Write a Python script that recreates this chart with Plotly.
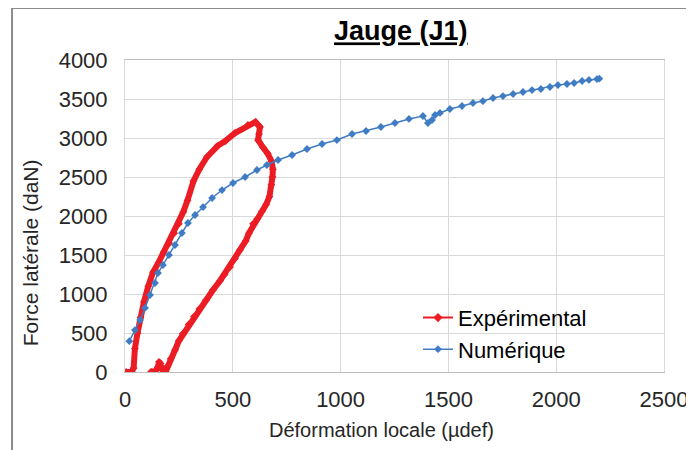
"""
Jauge (J1) chart

Force latérale vs déformation locale, experimental loop
against the numerical curve.
"""

import plotly.graph_objects as go

# -------------------------------------------------
# Data
# -------------------------------------------------

exp_def = [
    5, 30, 40, 46, 58, 72, 88, 108, 130, 155, 180, 205, 228, 250, 270,
    290, 318, 345, 380, 430, 465, 510, 570, 605, 626, 622, 617, 640, 662,
    680, 686, 684, 679, 670, 655, 635, 612, 594, 575, 560, 533, 510, 487,
    462, 441, 408, 375, 345, 320, 295, 268, 250, 232, 212, 195, 188, 175,
    165, 158, 152, 140, 125, 120,
]
exp_force = [
    0, 0, 50, 300, 500, 700, 900, 1100, 1280, 1400, 1540, 1650, 1780,
    1900, 2050, 2200, 2450, 2600, 2756, 2900, 2960, 3064, 3167, 3205,
    3141, 3050, 2974, 2880, 2800, 2700, 2600, 2500, 2400, 2250, 2150,
    2060, 1960, 1900, 1780, 1680, 1564, 1455, 1346, 1250, 1170, 1051,
    920, 810, 710, 610, 490, 400, 282, 170, 70, 0, 20, 110, 130, 60, 10,
    0, 0,
]

num_def = [
    20, 46, 70, 93, 116, 139, 153, 176, 204, 232, 264, 292, 325, 362, 404,
    450, 501, 557, 612, 658, 710, 775, 844, 914, 983, 1053, 1118, 1187,
    1252, 1317, 1382, 1405, 1424, 1438, 1461, 1507, 1563, 1614, 1660, 1707,
    1753, 1800, 1846, 1888, 1929, 1971, 2008, 2050, 2083, 2120, 2152, 2189,
    2200,
]
num_force = [
    395, 538, 667, 821, 987, 1141, 1269, 1372, 1500, 1628, 1782, 1910,
    2013, 2115, 2231, 2333, 2423, 2500, 2590, 2654, 2718, 2782, 2859, 2923,
    2974, 3051, 3090, 3141, 3192, 3244, 3282, 3192, 3231, 3295, 3321, 3372,
    3410, 3449, 3474, 3513, 3538, 3564, 3590, 3615, 3628, 3654, 3679, 3692,
    3705, 3731, 3744, 3756, 3760,
]

x_ticks = [0, 500, 1000, 1500, 2000, 2500]
y_ticks = [0, 500, 1000, 1500, 2000, 2500, 3000, 3500, 4000]

RED = "#ec1c24"
BLUE = "#3f7cc4"
GRID = "#d9d9d9"
TEXT = "#262626"
FONT = "Liberation Sans, Arial, sans-serif"

# -------------------------------------------------
# Figure
# -------------------------------------------------

fig = go.Figure()

# the dense experimental record reads as a thick stroke
fig.add_trace(go.Scatter(
    x=exp_def, y=exp_force,
    name="Expérimental",
    legendgroup="exp", showlegend=False,
    mode="lines+markers",
    line=dict(color=RED, width=6),
    marker=dict(color=RED, size=6, symbol="diamond"),
))
# legend entry only (thin line + marker like the original legend)
fig.add_trace(go.Scatter(
    x=[None], y=[None],
    name="Expérimental",
    legendgroup="exp",
    mode="lines+markers",
    line=dict(color=RED, width=2),
    marker=dict(color=RED, size=7, symbol="diamond"),
))

fig.add_trace(go.Scatter(
    x=num_def, y=num_force,
    name="Numérique",
    mode="lines+markers",
    line=dict(color=BLUE, width=1.5),
    marker=dict(color=BLUE, size=6, symbol="diamond"),
))

# outer frame of the original picture (cut on right / bottom)
fig.add_shape(
    type="rect", xref="paper", yref="paper",
    x0=-0.2096, x1=1.2, y0=-0.3, y1=1.1667,
    line=dict(color="#8c8c8c", width=2),
    layer="below",
)

# axis titles placed like the original (not centred on the plot)
fig.add_annotation(
    text="Déformation locale (µdef)",
    xref="paper", yref="paper", x=0.475, y=-0.186,
    xanchor="center", yanchor="middle", showarrow=False,
    font=dict(family=FONT, size=20, color=TEXT),
)
fig.add_annotation(
    text="Force latérale (daN)",
    xref="paper", yref="paper", x=-0.176, y=0.381,
    xanchor="center", yanchor="middle", showarrow=False, textangle=-90,
    font=dict(family=FONT, size=21, color=TEXT),
)

fig.update_layout(
    width=694, height=450,
    # page body adds an 8px offset, margins compensate for it
    margin=dict(l=117, r=38, t=52, b=86, autoexpand=False),
    paper_bgcolor="white",
    plot_bgcolor="white",
    font=dict(family=FONT, size=22, color=TEXT),
    title=dict(
        text="<b><u>Jauge (J1)</u></b>",
        x=0.566, xanchor="center",
        y=0.949, yanchor="middle",
        font=dict(family=FONT, size=27, color="#000000"),
    ),
    showlegend=True,
    legend=dict(
        x=0.5436, y=0.241, xanchor="left", yanchor="top",
        bgcolor="rgba(0,0,0,0)",
        font=dict(family=FONT, size=22, color="#000000"),
        tracegroupgap=0,
    ),
)

fig.update_xaxes(
    range=[0, 2500],
    tickvals=x_ticks,
    showgrid=True, gridcolor=GRID, gridwidth=1,
    zeroline=False,
    showline=True, linecolor="#bfbfbf", linewidth=1, mirror=True,
    ticks="", ticklabelstandoff=8,
    automargin=False,
)

fig.update_yaxes(
    range=[0, 4000],
    tickvals=y_ticks,
    showgrid=True, gridcolor=GRID, gridwidth=1,
    zeroline=False,
    showline=True, linecolor=GRID, linewidth=1, mirror=True,
    ticks="", ticklabelstandoff=12,
    automargin=False,
)

fig.write_html("out.html")
